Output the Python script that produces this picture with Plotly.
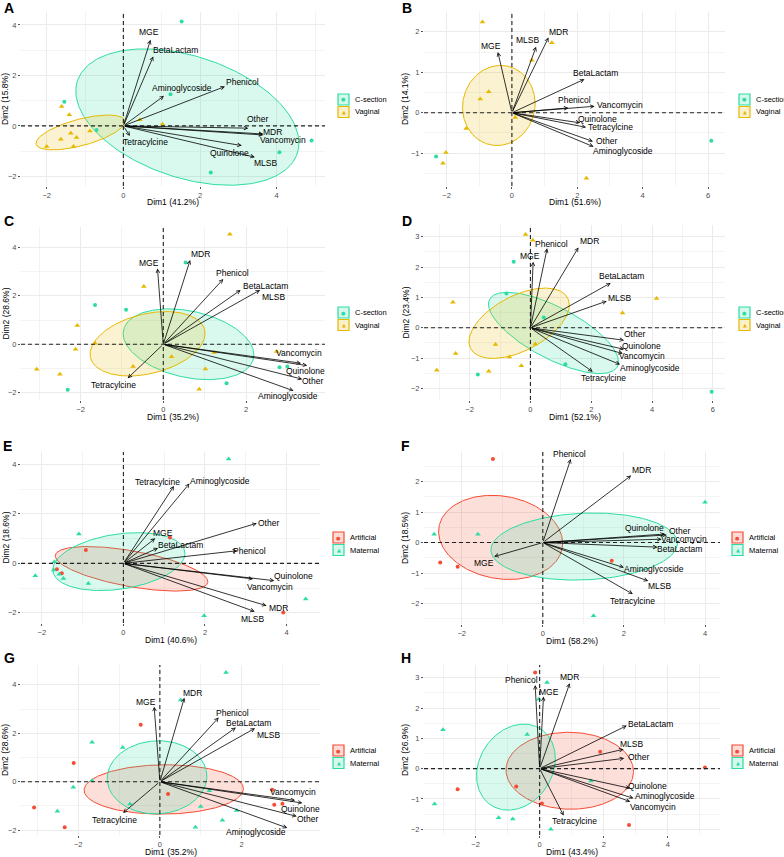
import numpy as np
import plotly.graph_objects as go

W, H = 784, 857
TEAL = "#2BDDA3"
GOLD = "#E7B800"
RED = "#F64B34"
FONT = "Liberation Sans, Arial, sans-serif"

VARS = ["MGE", "BetaLactam", "Aminoglycoside", "Phenicol", "Other",
        "MDR", "Vancomycin", "Quinolone", "MLSB", "Tetracylcine"]

# ---------------- Panel A ----------------
A_g1_x = [1.52, -1.54, -0.70, 1.23, 4.91, 4.07, 2.28]
A_g1_y = [4.13, 0.96, -0.16, 1.25, -0.58, -1.04, -1.85]
A_g2_x = [-1.61, -1.41, -1.37, -1.22, -1.63, -0.87, -2.00, -1.30, 0.43, 1.02]
A_g2_y = [0.77, 0.44, -0.29, -0.46, -0.53, -0.20, -0.82, -0.82, 0.24, 0.07]
A_load_x = [0.71, 0.78, 1.06, 2.65, 3.26, 3.65, 3.65, 3.09, 3.43, 0.17]
A_load_y = [3.41, 2.75, 1.19, 1.56, -0.09, -0.32, -0.36, -0.78, -1.24, -0.40]
A_lab_x = [0.68, 1.37, 1.54, 3.11, 3.50, 3.90, 4.16, 2.78, 3.70, 0.59]
A_lab_y = [3.71, 3.01, 1.52, 1.73, 0.28, -0.24, -0.55, -1.06, -1.48, -0.65]
A_ell_g1 = [1.67, 0.35, 2.91, 2.70, -0.38]
A_ell_g2 = [-1.12, -0.26, 1.16, 0.69, 0.62]
A_pct = [41.2, 15.8]

# ---------------- Panel B ----------------
B_g1_x = [-2.32, 6.10]
B_g1_y = [-1.08, -0.69]
B_g2_x = [-0.90, 1.22, 0.61, -0.71, -0.97, -1.40, 0.10, -2.02, -2.11, 2.28]
B_g2_y = [2.24, 1.73, 1.30, 0.52, 0.34, -0.39, -0.12, -0.98, -1.25, -1.62]
B_load_x = [-0.43, 2.22, 2.50, 1.73, 2.48, 1.12, 2.53, 2.09, 0.74, 2.27]
B_load_y = [1.50, 0.83, -0.84, 0.12, -0.71, 1.86, 0.16, -0.25, 1.63, -0.36]
B_lab_x = [-0.65, 2.55, 3.40, 1.92, 2.89, 1.43, 3.32, 2.63, 0.49, 3.02]
B_lab_y = [1.64, 0.99, -0.94, 0.31, -0.71, 2.00, 0.19, -0.15, 1.79, -0.36]
B_ell_g1 = None
B_ell_g2 = [-0.40, 0.18, 1.11, 0.99, 0.05]
B_pct = [51.6, 14.1]

# ---------------- Panel C ----------------
C_g1_x = [-1.65, -0.90, 0.54, -2.31, 1.53, 2.81, 3.00]
C_g1_y = [1.62, 1.42, 3.37, -1.88, -1.61, -0.95, -0.92]
C_g2_x = [1.61, -0.47, -2.08, -2.12, -1.65, -3.06, -2.50, -0.73, 0.20, 1.23, 1.02, 0.87, 2.74]
C_g2_y = [4.54, 2.38, 0.77, -0.21, 0.04, -1.03, -1.24, -0.92, -0.51, -0.34, -1.02, -1.86, -0.30]
C_load_x = [-0.14, 1.87, 3.15, 1.45, 3.36, 0.65, 3.33, 3.48, 2.34, -0.86]
C_load_y = [3.13, 2.24, -1.92, 2.69, -1.44, 3.48, -0.78, -0.88, 2.24, -1.40]
C_lab_x = [-0.34, 2.46, 3.02, 1.67, 3.61, 0.91, 3.29, 3.43, 2.66, -1.21]
C_lab_y = [3.37, 2.42, -2.12, 2.93, -1.51, 3.71, -0.37, -1.09, 1.97, -1.68]
C_ell_g1 = [0.61, 0.00, 1.58, 1.46, -0.30]
C_ell_g2 = [-0.38, 0.02, 1.39, 1.33, 0.32]
C_pct = [35.2, 28.6]

# ---------------- Panel D ----------------
D_g1_x = [-0.55, -0.79, 0.44, -1.73, 1.15, 5.96]
D_g1_y = [2.18, 1.13, 0.34, -1.54, -1.20, -2.11]
D_g2_x = [-0.16, 0.08, -2.55, 4.15, 3.03, -1.15, 0.16, -2.46, -0.69, -0.30, -1.37, -3.08]
D_g2_y = [3.08, 2.89, 0.84, 0.97, 0.49, -0.55, -0.53, -0.85, -0.96, -1.25, -1.43, -1.40]
D_load_x = [0.09, 2.64, 2.95, 0.55, 3.08, 1.58, 3.04, 3.08, 2.51, 2.05]
D_load_y = [2.18, 1.48, -1.21, 2.62, -0.41, 2.65, -0.85, -0.71, 0.88, -1.45]
D_lab_x = [0.00, 2.98, 3.93, 0.69, 3.42, 1.93, 3.66, 3.64, 2.93, 2.42]
D_lab_y = [2.36, 1.70, -1.32, 2.78, -0.22, 2.86, -0.93, -0.60, 0.97, -1.67]
D_ell_g1 = [0.76, -0.17, 2.14, 1.34, -0.71]
D_ell_g2 = [-0.37, 0.15, 1.65, 1.16, 0.52]
D_pct = [52.1, 23.4]

# ---------------- Panel E ----------------
E_g1_x = [1.14, -0.92, -1.51, -1.63, 3.92]
E_g1_y = [1.05, 0.54, -0.40, -0.24, -1.99]
E_g2_x = [2.58, -1.09, -1.69, -1.71, -1.57, -1.47, -0.86, -2.16, 1.98, 4.47]
E_g2_y = [4.22, 1.19, 0.07, -0.27, -0.44, -0.61, -0.81, -0.50, -2.12, -1.44]
E_load_x = [0.78, 0.85, 1.62, 2.79, 3.27, 3.51, 3.18, 3.70, 3.22, 1.24]
E_load_y = [1.01, 0.62, 3.23, 0.51, 1.62, -1.71, -0.63, -0.70, -1.95, 3.13]
E_lab_x = [0.98, 1.39, 2.37, 3.09, 3.55, 3.80, 3.59, 4.16, 3.16, 0.83]
E_lab_y = [1.21, 0.73, 3.33, 0.51, 1.62, -1.79, -0.94, -0.50, -2.25, 3.27]
E_ell_g1 = [0.20, -0.22, 1.87, 0.90, -0.58]
E_ell_g2 = [-0.11, 0.07, 1.62, 1.17, 0.28]
E_pct = [40.6, 18.6]

# ---------------- Panel F ----------------
F_g1_x = [-1.23, -2.53, -2.10, 1.70]
F_g1_y = [2.74, -0.65, -0.79, -0.60]
F_g2_x = [-2.68, -1.60, 4.00, 1.25]
F_g2_y = [0.27, 0.27, 1.32, -2.40]
F_load_x = [-1.20, 2.83, 2.00, 0.69, 3.06, 2.18, 2.93, 3.01, 2.60, 2.22]
F_load_y = [-0.46, -0.15, -0.82, 2.74, 0.25, 2.20, 0.11, 0.28, -1.26, -1.69]
F_lab_x = [-1.46, 3.38, 2.73, 0.67, 3.36, 2.44, 3.49, 2.50, 2.87, 2.21]
F_lab_y = [-0.66, -0.22, -0.88, 2.90, 0.39, 2.39, 0.12, 0.49, -1.41, -1.91]
F_ell_g1 = [-1.04, 0.17, 1.53, 1.38, -0.14]
F_ell_g2 = [1.02, -0.13, 2.30, 1.10, 0.10]
F_pct = [58.2, 18.5]

# ---------------- Panel G ----------------
G_g1_x = [-0.47, -2.11, -3.08, -2.33, 0.20, 2.75, 2.80, 3.00]
G_g1_y = [2.35, 0.77, -1.06, -1.88, -0.51, -0.33, -0.95, -0.91]
G_g2_x = [1.62, 0.51, -1.66, -0.91, -1.66, -2.12, -2.51, -0.73, 1.21, 1.00, 1.53, 0.87, 1.88]
G_g2_y = [4.51, 3.37, 1.63, 1.41, 0.04, -0.23, -1.22, -0.92, -0.37, -1.02, -1.59, -1.88, -1.19]
G_load_x = [-0.14, 1.86, 3.12, 1.44, 3.35, 0.60, 3.31, 3.49, 2.33, -0.90]
G_load_y = [3.10, 2.24, -1.91, 2.65, -1.43, 3.47, -0.77, -0.88, 2.21, -1.29]
G_lab_x = [-0.35, 2.16, 2.35, 1.77, 3.61, 0.80, 3.25, 3.45, 2.65, -1.12]
G_lab_y = [3.31, 2.41, -2.07, 2.85, -1.52, 3.65, -0.44, -1.11, 1.93, -1.56]
G_ell_g1 = [0.095, -0.32, 1.95, 1.02, 0.03]
G_ell_g2 = [-0.07, 0.18, 1.22, 1.51, 0.03]
G_pct = [35.2, 28.6]

# ---------------- Panel H ----------------
H_g1_x = [-0.14, 5.16, 1.89, -0.73, -2.56, 0.07, 2.79]
H_g1_y = [3.17, 0.04, 0.56, -0.59, -0.68, -1.15, -1.86]
H_g2_x = [0.23, -0.03, -3.02, -0.39, -3.28, -1.28, -0.84, 0.35, 1.60]
H_g2_y = [2.84, 2.29, 1.28, 1.13, -1.17, -1.62, -1.66, -2.00, -0.41]
H_load_x = [0.12, 2.72, 2.93, -0.14, 2.64, 0.94, 2.83, 2.83, 2.62, 0.75]
H_load_y = [2.38, 1.42, -0.98, 2.76, 0.34, 2.82, -1.09, -0.65, 0.64, -1.55]
H_lab_x = [0.28, 3.45, 3.92, -0.57, 3.09, 0.94, 3.55, 3.37, 2.86, 1.09]
H_lab_y = [2.52, 1.46, -0.90, 2.93, 0.40, 3.01, -1.26, -0.56, 0.80, -1.72]
H_ell_g1 = [0.94, -0.07, 1.99, 1.27, -0.02]
H_ell_g2 = [-0.74, 0.05, 1.23, 1.42, 0.20]
H_pct = [43.4, 26.9]

GROUPS_BIRTH = ["C-section", "Vaginal"]
GROUPS_FEED = ["Artificial", "Maternal"]

# ---------------- layout (pixels) ----------------
panels = [
    dict(tag="A", g1=(A_g1_x, A_g1_y), g2=(A_g2_x, A_g2_y), load=(A_load_x, A_load_y), lab=(A_lab_x, A_lab_y),
         ell=(A_ell_g1, A_ell_g2), pct=A_pct, groups=GROUPS_BIRTH, cols=(TEAL, GOLD),
         box=(21, 325, 12, 186), xr=[-2.67, 5.26], yr=[-2.38, 4.51], ydt=2, leg=(338, 94), tagpos=(2, 7.5)),
    dict(tag="B", g1=(B_g1_x, B_g1_y), g2=(B_g2_x, B_g2_y), load=(B_load_x, B_load_y), lab=(B_lab_x, B_lab_y),
         ell=(B_ell_g1, B_ell_g2), pct=B_pct, groups=GROUPS_BIRTH, cols=(TEAL, GOLD),
         box=(424, 725, 12, 186), xr=[-2.69, 6.52], yr=[-1.81, 2.49], ydt=1, leg=(739, 94), tagpos=(400, 7.5)),
    dict(tag="C", g1=(C_g1_x, C_g1_y), g2=(C_g2_x, C_g2_y), load=(C_load_x, C_load_y), lab=(C_lab_x, C_lab_y),
         ell=(C_ell_g1, C_ell_g2), pct=C_pct, groups=GROUPS_BIRTH, cols=(TEAL, GOLD),
         box=(21, 325, 227, 400), xr=[-3.44, 3.91], yr=[-2.30, 4.84], ydt=2, leg=(338, 307), tagpos=(2, 221)),
    dict(tag="D", g1=(D_g1_x, D_g1_y), g2=(D_g2_x, D_g2_y), load=(D_load_x, D_load_y), lab=(D_lab_x, D_lab_y),
         ell=(D_ell_g1, D_ell_g2), pct=D_pct, groups=GROUPS_BIRTH, cols=(TEAL, GOLD),
         box=(424, 725, 225, 400), xr=[-3.50, 6.40], yr=[-2.38, 3.39], ydt=1, leg=(739, 307), tagpos=(400, 221)),
    dict(tag="E", g1=(E_g1_x, E_g1_y), g2=(E_g2_x, E_g2_y), load=(E_load_x, E_load_y), lab=(E_lab_x, E_lab_y),
         ell=(E_ell_g1, E_ell_g2), pct=E_pct, groups=GROUPS_FEED, cols=(RED, TEAL),
         box=(21, 320, 452, 623), xr=[-2.51, 4.82], yr=[-2.41, 4.50], ydt=2, leg=(333, 532), tagpos=(1, 446)),
    dict(tag="F", g1=(F_g1_x, F_g1_y), g2=(F_g2_x, F_g2_y), load=(F_load_x, F_load_y), lab=(F_lab_x, F_lab_y),
         ell=(F_ell_g1, F_ell_g2), pct=F_pct, groups=GROUPS_FEED, cols=(RED, TEAL),
         box=(424, 720, 452, 624), xr=[-2.93, 4.37], yr=[-2.67, 2.97], ydt=1, leg=(732, 532), tagpos=(399, 446)),
    dict(tag="G", g1=(G_g1_x, G_g1_y), g2=(G_g2_x, G_g2_y), load=(G_load_x, G_load_y), lab=(G_lab_x, G_lab_y),
         ell=(G_ell_g1, G_ell_g2), pct=G_pct, groups=GROUPS_FEED, cols=(RED, TEAL),
         box=(21, 320, 665, 835), xr=[-3.40, 3.92], yr=[-2.20, 4.82], ydt=2, leg=(333, 745), tagpos=(2, 657.5)),
    dict(tag="H", g1=(H_g1_x, H_g1_y), g2=(H_g2_x, H_g2_y), load=(H_load_x, H_load_y), lab=(H_lab_x, H_lab_y),
         ell=(H_ell_g1, H_ell_g2), pct=H_pct, groups=GROUPS_FEED, cols=(RED, TEAL),
         box=(424, 720, 665, 835), xr=[-3.61, 5.63], yr=[-2.19, 3.42], ydt=1, leg=(732, 745), tagpos=(399, 658)),
]


def px(x):
    return x / W


def py(y):
    return 1 - y / H


def rgba(hexc, a):
    h = hexc.lstrip("#")
    r, g, b = int(h[0:2], 16), int(h[2:4], 16), int(h[4:6], 16)
    return f"rgba({r},{g},{b},{a})"


def ellipse(params, n=240):
    cx, cy, sx, sy, r = params
    t = np.linspace(0, 2 * np.pi, n)
    x = cx + sx * np.cos(t)
    y = cy + r * sy * np.cos(t) + sy * np.sqrt(1 - r * r) * np.sin(t)
    return x, y


fig = go.Figure()
annotations = []
shapes = []
SYMS = ("circle", "triangle-up")
SYM_TXT = ("●", "▲")

for i, p in enumerate(panels):
    k = i + 1
    xa = "x" if k == 1 else f"x{k}"
    ya = "y" if k == 1 else f"y{k}"
    xname = "xaxis" if k == 1 else f"xaxis{k}"
    yname = "yaxis" if k == 1 else f"yaxis{k}"
    L, R, T, B = p["box"]

    common = dict(showgrid=True, gridcolor="#EBEBEB", gridwidth=0.8, zeroline=False, showline=False,
                  ticks="outside", ticklen=2, tickwidth=0.7, tickcolor="#555555", automargin=False,
                  tickfont=dict(size=7.5, color="#4D4D4D", family=FONT), fixedrange=True)
    fig.layout[xname] = dict(domain=[px(L), px(R)], anchor=ya, range=p["xr"], dtick=2, tick0=0,
                             minor=dict(dtick=1, tick0=0, showgrid=True, gridcolor="#F3F3F3", gridwidth=0.5),
                             **common)
    fig.layout[yname] = dict(domain=[py(B), py(T)], anchor=xa, range=p["yr"], dtick=p["ydt"], tick0=0,
                             minor=dict(dtick=p["ydt"] / 2, tick0=0, showgrid=True, gridcolor="#F3F3F3",
                                        gridwidth=0.5),
                             **common)

    # ellipses
    for e, c in zip(p["ell"], p["cols"]):
        if e is None:
            continue
        ex, ey = ellipse(e)
        fig.add_trace(go.Scatter(x=ex, y=ey, mode="lines", fill="toself", fillcolor=rgba(c, 0.18),
                                 line=dict(color=c, width=1), xaxis=xa, yaxis=ya, showlegend=False,
                                 hoverinfo="skip"))
    # points
    for (gx, gy), c, s, name in zip((p["g1"], p["g2"]), p["cols"], SYMS, p["groups"]):
        fig.add_trace(go.Scatter(x=gx, y=gy, mode="markers", name=name,
                                 marker=dict(symbol=s, size=4 if s == "circle" else 5, color=c,
                                             line=dict(width=0)),
                                 xaxis=xa, yaxis=ya, showlegend=False))

    # dashed zero lines
    shapes.append(dict(type="line", xref=f"{xa} domain", yref=ya, x0=0, x1=1, y0=0, y1=0,
                       line=dict(color="#222222", width=1.1, dash="4px,3px"), layer="above"))
    shapes.append(dict(type="line", xref=xa, yref=f"{ya} domain", x0=0, x1=0, y0=0, y1=1,
                       line=dict(color="#222222", width=1.1, dash="4px,3px"), layer="above"))

    # arrows
    lx, ly = p["load"]
    tx, ty = p["lab"]
    for name, ax_, ay_, bx, by in zip(VARS, lx, ly, tx, ty):
        annotations.append(dict(x=ax_, y=ay_, ax=0, ay=0, xref=xa, yref=ya, axref=xa, ayref=ya,
                                text="", showarrow=True, arrowhead=5, arrowsize=0.9, arrowwidth=0.8,
                                arrowcolor="black", standoff=0, startstandoff=0))
        annotations.append(dict(x=bx, y=by, xref=xa, yref=ya, text=name, showarrow=False,
                                xanchor="center", yanchor="middle",
                                font=dict(size=8.5, color="black", family=FONT)))

    # axis titles
    annotations.append(dict(x=px((L + R) / 2), y=py(B + 16.5), xref="paper", yref="paper",
                            text=f"Dim1 ({p['pct'][0]}%)", showarrow=False, xanchor="center",
                            yanchor="middle", font=dict(size=8.5, color="black", family=FONT)))
    ytx = 5 if L < 200 else 405
    annotations.append(dict(x=px(ytx), y=py((T + B) / 2), xref="paper", yref="paper",
                            text=f"Dim2 ({p['pct'][1]}%)", showarrow=False, textangle=-90,
                            xanchor="center", yanchor="middle",
                            font=dict(size=8.5, color="black", family=FONT)))

    # panel tag
    tgx, tgy = p["tagpos"]
    annotations.append(dict(x=px(tgx), y=py(tgy), xref="paper", yref="paper", text=f"<b>{p['tag']}</b>",
                            showarrow=False, xanchor="left", yanchor="middle",
                            font=dict(size=14, color="black", family=FONT)))

    # legend (manual, ggplot-like keys)
    gxp, gyp = p["leg"]
    for j, (c, sym, name) in enumerate(zip(p["cols"], SYM_TXT, p["groups"])):
        y0 = gyp + j * 12.5
        shapes.append(dict(type="rect", xref="paper", yref="paper", x0=px(gxp), x1=px(gxp + 11),
                           y0=py(y0 + 11), y1=py(y0), line=dict(color=c, width=1.2),
                           fillcolor=rgba(c, 0.2), layer="above"))
        annotations.append(dict(x=px(gxp + 5.5), y=py(y0 + 5.5), xref="paper", yref="paper", text=sym,
                                showarrow=False, xanchor="center", yanchor="middle",
                                font=dict(size=5, color=c, family="DejaVu Sans")))
        annotations.append(dict(x=px(gxp + 15), y=py(y0 + 5.5), xref="paper", yref="paper", text=name,
                                showarrow=False, xanchor="left", yanchor="middle",
                                font=dict(size=7.5, color="black", family=FONT)))

fig.update_layout(width=W, height=H, margin=dict(l=0, r=0, t=0, b=0, autoexpand=False),
                  plot_bgcolor="white", paper_bgcolor="white", showlegend=False,
                  annotations=annotations, shapes=shapes, font=dict(family=FONT))
fig.write_html("out.html", config={"displayModeBar": False},
               post_script="document.body.style.margin='0px';document.body.style.padding='0px';"
                           "document.body.style.overflow='hidden';"
                           "document.documentElement.style.overflow='hidden';")
